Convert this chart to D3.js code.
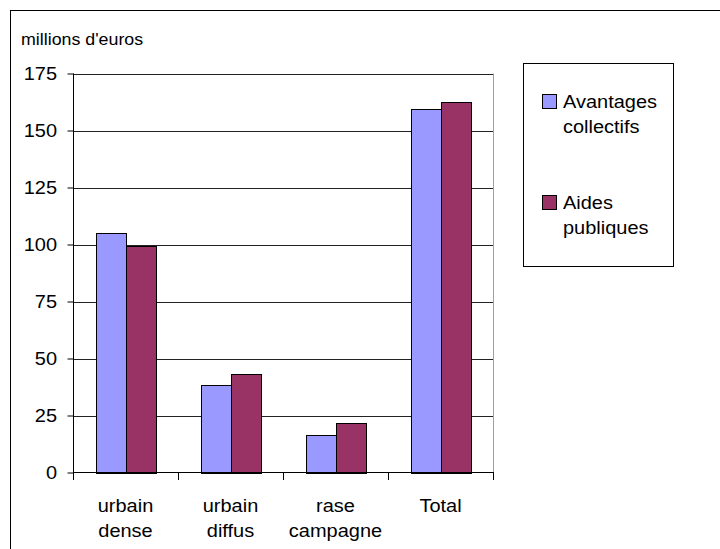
<!DOCTYPE html>
<html>
<head>
<meta charset="utf-8">
<script src="https://cdn.jsdelivr.net/npm/d3@7"></script>
<style>
  html, body { margin: 0; padding: 0; background: #fff; }
  svg { display: block; }
  text { font-family: "Liberation Sans", Arial, Helvetica, sans-serif; fill: #000; }
</style>
</head>
<body>
<script>
// Chart data
const categories = [["urbain", "dense"], ["urbain", "diffus"], ["rase", "campagne"], ["Total"]];
const categoryKeys = ["urbain dense", "urbain diffus", "rase campagne", "Total"];
const seriesNames = [["Avantages", "collectifs"], ["Aides", "publiques"]];
const seriesKeys = ["Avantages collectifs", "Aides publiques"];
const avantagesCollectifs = [105, 38.5, 16.5, 159.5];
const aidesPubliques = [99.5, 43, 21.5, 162.5];
const yTicks = [0, 25, 50, 75, 100, 125, 150, 175];
const yLabel = "millions d'euros";
const colors = ["#9999FF", "#993366"];

const W = 720, H = 549;
const SX = 1.08;         // horizontal stretch of the lettering
const FS = 18.5;

const svg = d3.select("body").append("svg").attr("width", W).attr("height", H);

// outer chart frame (runs past the right and bottom edges)
svg.append("rect").attr("x", 10.5).attr("y", 10.5).attr("width", W + 20).attr("height", H + 20)
  .attr("fill", "#fff").attr("stroke", "#000").attr("stroke-width", 1);

const plot = { left: 73, right: 493, top: 73, bottom: 472 };

const y = d3.scaleLinear().domain([0, 175]).range([plot.bottom + 0.5, plot.top + 0.5]);
const x = d3.scaleBand().domain(categoryKeys).range([plot.left, plot.right]).padding(0);
const xs = d3.scaleBand().domain(seriesKeys).range([0, x.bandwidth()]).paddingInner(0).paddingOuter(0.75);

function stretchedText(sel, tx, ty, str, anchor, size) {
  return sel.append("text")
    .attr("transform", `translate(${tx},${ty}) scale(${SX},1)`)
    .attr("text-anchor", anchor || "start")
    .style("font-size", (size || FS) + "px")
    .text(str);
}

// gridlines
svg.append("g").selectAll("line").data(yTicks.filter(d => d > 0)).join("line")
  .attr("x1", plot.left).attr("x2", plot.right)
  .attr("y1", d => Math.round(y(d)) + 0.5).attr("y2", d => Math.round(y(d)) + 0.5)
  .attr("stroke", "#222").attr("stroke-width", 1);

// plot-area right border
svg.append("line")
  .attr("x1", plot.right + 0.5).attr("x2", plot.right + 0.5)
  .attr("y1", plot.top + 0.5).attr("y2", plot.bottom + 0.5)
  .attr("stroke", "#a0a0a0");

// bars
const rows = categoryKeys.map((c, i) => ({ cat: c, vals: [avantagesCollectifs[i], aidesPubliques[i]] }));
const groups = svg.append("g").selectAll("g").data(rows).join("g")
  .attr("transform", d => `translate(${x(d.cat)},0)`);
groups.selectAll("rect").data(d => d.vals.map((v, j) => ({ key: seriesKeys[j], v, j }))).join("rect")
  .attr("x", d => Math.round(xs(d.key)) + 0.5)
  .attr("width", xs.bandwidth())
  .attr("y", d => Math.round(y(d.v)) + 0.5)
  .attr("height", d => Math.round(y(0)) - Math.round(y(d.v)))
  .attr("fill", d => colors[d.j])
  .attr("stroke", "#000").attr("stroke-width", 1);

// y axis: line and ticks from d3.axisLeft, labels drawn with the stretched lettering
const yAxis = svg.append("g")
  .attr("transform", `translate(${plot.left + 0.5},0)`)
  .call(d3.axisLeft(y).tickValues(yTicks).tickSize(6).tickFormat(""));
yAxis.select(".domain").attr("stroke", "#000").attr("d", `M0,${plot.top + 0.5}V${plot.bottom + 0.5}`);
yAxis.selectAll(".tick line").attr("stroke", "#000");
yAxis.selectAll(".tick text").remove();
yTicks.forEach(v => {
  stretchedText(svg, plot.left - 16, y(v), String(v), "end").attr("dy", "0.35em");
});

// x axis
svg.append("line")
  .attr("x1", plot.left).attr("x2", plot.right + 1)
  .attr("y1", plot.bottom + 0.5).attr("y2", plot.bottom + 0.5)
  .attr("stroke", "#000");
const edges = categoryKeys.map(c => x(c)).concat([plot.right]);
svg.append("g").selectAll("line").data(edges).join("line")
  .attr("x1", d => Math.round(d) + 0.5).attr("x2", d => Math.round(d) + 0.5)
  .attr("y1", plot.bottom + 0.5).attr("y2", plot.bottom + 8)
  .attr("stroke", "#000");

// category labels
categories.forEach((lines, i) => {
  const cx = x(categoryKeys[i]) + x.bandwidth() / 2;
  lines.forEach((ln, k) => stretchedText(svg, cx, 512 + k * 25, ln, "middle"));
});

// axis title
stretchedText(svg, 21, 45, yLabel, "start", 16.5);

// legend
svg.append("rect").attr("x", 523.5).attr("y", 63.5).attr("width", 150).attr("height", 203)
  .attr("fill", "#fff").attr("stroke", "#000");
const legendTop = [94, 195];
seriesNames.forEach((lines, j) => {
  svg.append("rect").attr("x", 542.5).attr("y", legendTop[j] + 0.5).attr("width", 14).attr("height", 14)
    .attr("fill", colors[j]).attr("stroke", "#000");
  lines.forEach((ln, k) => stretchedText(svg, 563, legendTop[j] + 14 + k * 25, ln, "start"));
});
</script>
</body>
</html>
